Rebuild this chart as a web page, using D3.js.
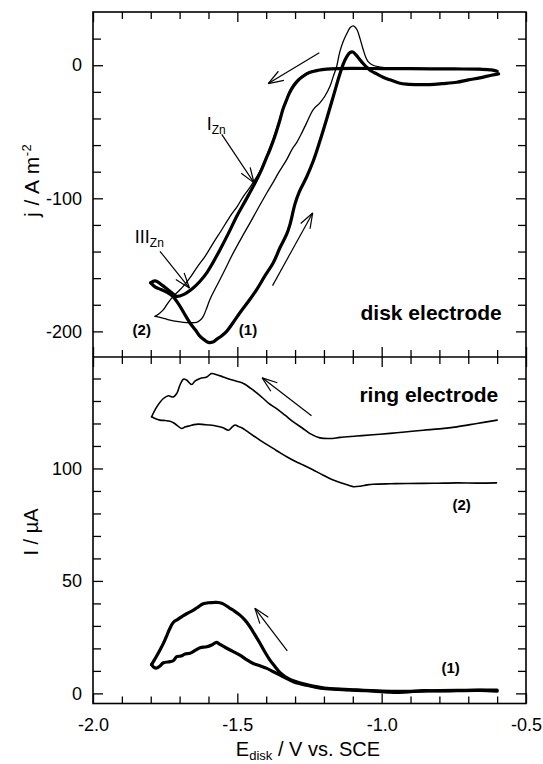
<!DOCTYPE html>
<html>
<head>
<meta charset="utf-8">
<script src="https://cdn.jsdelivr.net/npm/d3@7"></script>
<style>
  body { margin: 0; background: #fff; }
  svg { display: block; }
  text { font-family: "Liberation Sans", Arial, Helvetica, sans-serif; fill: #000; }
</style>
</head>
<body>
<div id="chart"></div>
<script>
// ---- data: [E (V vs. SCE), value] ----
// disk current density j / A m^-2, curve (1) thick, curve (2) thin
const diskFwd1 = [[-0.600,-4.5],[-0.620,-3.5],[-0.660,-3.0],[-0.750,-2.8],[-0.900,-2.6],[-1.000,-2.5],[-1.100,-2.4],[-1.150,-2.5],[-1.190,-2.9],[-1.220,-3.8],[-1.250,-5.5],[-1.272,-8.3],[-1.290,-11.5],[-1.306,-15.8],[-1.320,-21],[-1.329,-25.8],[-1.342,-33],[-1.352,-40.8],[-1.370,-53.4],[-1.387,-63.4],[-1.400,-70],[-1.416,-78.4],[-1.440,-89],[-1.470,-101],[-1.502,-113.5],[-1.530,-126],[-1.560,-138.6],[-1.585,-148.5],[-1.606,-156],[-1.630,-162.5],[-1.653,-167.4],[-1.687,-172.4],[-1.710,-173.7],[-1.727,-171],[-1.756,-166],[-1.785,-162],[-1.800,-163.5]];
const diskRev1 = [[-1.800,-163.5],[-1.785,-166.5],[-1.765,-168.5],[-1.745,-170.5],[-1.722,-174],[-1.699,-181],[-1.680,-188],[-1.664,-193.7],[-1.645,-199],[-1.629,-203.8],[-1.612,-206.8],[-1.600,-208.3],[-1.585,-208],[-1.572,-206],[-1.555,-203.5],[-1.537,-200],[-1.515,-193.5],[-1.491,-186],[-1.460,-177],[-1.433,-168.6],[-1.405,-158.5],[-1.376,-148.6],[-1.352,-137],[-1.329,-127],[-1.318,-120],[-1.300,-104],[-1.285,-95],[-1.260,-84],[-1.237,-72],[-1.214,-57],[-1.190,-40],[-1.167,-23],[-1.144,-6],[-1.127,4],[-1.110,9.5],[-1.100,10],[-1.090,8],[-1.080,5.5],[-1.065,1.5],[-1.052,-1.5],[-1.035,-4.5],[-1.017,-6.5],[-0.995,-9],[-0.971,-11],[-0.940,-13.3],[-0.914,-14.2],[-0.870,-14.6],[-0.833,-14.5],[-0.790,-13.8],[-0.740,-12.8],[-0.700,-11],[-0.660,-9.5],[-0.620,-7.5],[-0.595,-6.5]];
const diskFwd2 = [[-0.600,-4],[-0.640,-3.2],[-0.750,-2.7],[-0.900,-2.5],[-1.000,-2.3],[-1.100,-2.2],[-1.160,-2.4],[-1.190,-2.8],[-1.220,-3.5],[-1.250,-5],[-1.272,-7.5],[-1.290,-10.5],[-1.306,-14.5],[-1.322,-21],[-1.334,-28],[-1.346,-35.5],[-1.360,-45],[-1.377,-56],[-1.393,-65],[-1.410,-74],[-1.425,-81],[-1.439,-86],[-1.460,-93],[-1.479,-98.5],[-1.500,-106],[-1.525,-113.5],[-1.555,-124],[-1.583,-133.5],[-1.610,-143],[-1.641,-152.3],[-1.665,-160],[-1.687,-166],[-1.705,-170],[-1.722,-173.7],[-1.740,-178.5],[-1.756,-183.7],[-1.770,-186.5],[-1.785,-188.7]];
const diskRev2 = [[-1.785,-188.7],[-1.768,-189.5],[-1.750,-190.5],[-1.733,-191.5],[-1.710,-192.5],[-1.687,-193.2],[-1.665,-193.5],[-1.641,-193.2],[-1.628,-191.5],[-1.618,-188.7],[-1.607,-183],[-1.595,-176],[-1.578,-168.5],[-1.560,-161],[-1.537,-151],[-1.514,-141],[-1.485,-129.5],[-1.456,-118.5],[-1.428,-107.5],[-1.398,-96],[-1.376,-88],[-1.355,-80],[-1.329,-70.9],[-1.310,-63],[-1.295,-58.3],[-1.277,-51],[-1.260,-43.3],[-1.237,-33.3],[-1.214,-28.3],[-1.197,-23.3],[-1.179,-15.8],[-1.167,-8],[-1.156,-1],[-1.145,10],[-1.133,18],[-1.118,25],[-1.108,28.5],[-1.098,29.5],[-1.085,26.5],[-1.075,20],[-1.064,11.8],[-1.055,6],[-1.046,2.5],[-1.030,0],[-1.010,-1.2],[-0.983,-2],[-0.900,-2.5],[-0.800,-2.6],[-0.700,-3],[-0.640,-3.5],[-0.600,-4]];
// ring current I / uA, curve (1) thick, curve (2) thin
const ringFwd1 = [[-0.600,1.5],[-0.700,1.4],[-0.800,1.2],[-0.900,0.9],[-1.000,1.0],[-1.100,1.6],[-1.200,2.4],[-1.260,3.9],[-1.306,5.6],[-1.335,7.5],[-1.352,9.2],[-1.370,12],[-1.387,14.8],[-1.405,18.5],[-1.421,22.2],[-1.440,26.2],[-1.456,29.6],[-1.475,32.8],[-1.491,34.8],[-1.510,36.6],[-1.525,37.8],[-1.549,39.8],[-1.566,40.4],[-1.583,40.4],[-1.600,40.3],[-1.618,39.8],[-1.635,38.5],[-1.652,37],[-1.670,35.8],[-1.687,34.6],[-1.705,33],[-1.722,31.5],[-1.735,28.5],[-1.745,25.5],[-1.757,22],[-1.768,19.3],[-1.780,16.5],[-1.791,14.1],[-1.797,12.8]];
const ringRev1 = [[-1.797,12.8],[-1.788,11.5],[-1.779,11.3],[-1.768,12.2],[-1.756,13.6],[-1.733,14.1],[-1.722,14.5],[-1.710,16.3],[-1.695,16.6],[-1.681,17.5],[-1.664,17.8],[-1.645,19.2],[-1.629,20.3],[-1.606,20.7],[-1.589,21.5],[-1.572,22.7],[-1.563,22],[-1.554,21.3],[-1.540,20.3],[-1.525,19.3],[-1.491,17],[-1.468,15],[-1.445,13.3],[-1.420,12.2],[-1.398,11.1],[-1.375,9.6],[-1.352,8.1],[-1.329,6.6],[-1.306,5.2],[-1.283,4.3],[-1.260,3.6],[-1.230,2.8],[-1.202,2.2],[-1.150,1.8],[-1.110,1.5],[-1.050,1.2],[-0.971,0.5],[-0.920,0.6],[-0.856,1.2],[-0.800,1.1],[-0.740,1.2],[-0.660,1.3],[-0.600,1.0]];
const ringFwd2 = [[-0.600,121.5],[-0.670,120],[-0.740,118.5],[-0.800,117.6],[-0.856,117],[-0.920,116.2],[-0.971,115.6],[-1.030,115],[-1.087,114.4],[-1.144,113.8],[-1.179,113.3],[-1.214,113.6],[-1.248,115.5],[-1.275,118],[-1.306,120.7],[-1.335,123.7],[-1.364,126.6],[-1.390,128.8],[-1.410,131.1],[-1.445,134.8],[-1.479,137.8],[-1.503,138.8],[-1.526,139.7],[-1.549,140.7],[-1.572,141.7],[-1.589,142.2],[-1.606,140.7],[-1.629,140],[-1.647,138.8],[-1.658,137.3],[-1.676,139.3],[-1.687,139.7],[-1.699,137],[-1.710,133.3],[-1.722,131.8],[-1.739,132.3],[-1.756,131.1],[-1.779,127.4],[-1.797,123]];
const ringRev2 = [[-1.797,123],[-1.785,122.2],[-1.768,121.5],[-1.750,121.3],[-1.733,121],[-1.720,120.2],[-1.710,119.3],[-1.693,117.8],[-1.680,118.5],[-1.664,119],[-1.650,119.5],[-1.635,119.7],[-1.615,119.5],[-1.595,119.3],[-1.570,118.8],[-1.549,118.1],[-1.531,117],[-1.520,118.2],[-1.508,119.3],[-1.495,118.6],[-1.485,118.1],[-1.456,115.6],[-1.422,112.6],[-1.400,110.8],[-1.376,108.9],[-1.350,106.8],[-1.329,105.2],[-1.300,103.2],[-1.272,101.5],[-1.240,99.5],[-1.202,97],[-1.170,95],[-1.133,93.3],[-1.110,92.3],[-1.098,91.9],[-1.075,92.1],[-1.050,92.7],[-1.029,93],[-0.970,93.2],[-0.913,93.3],[-0.820,93.4],[-0.740,93.6],[-0.670,93.5],[-0.602,93.6]];

// tick labels
const xLabels = [-2.0, -1.5, -1.0, -0.5];
const diskLabels = [0, -100, -200];
const ringLabels = [0, 50, 100];

// annotation arrows (in data units: [from, to])
const diskArrows = [[[-1.216, 9.3], [-1.393, -13.8]], [[-1.554, -52], [-1.442, -88.4]], [[-1.768, -139.8], [-1.666, -167.4]], [[-1.378, -165.6], [-1.239, -111]]];
const ringArrows = [[[-1.243, 123.4], [-1.414, 140.3]], [[-1.327, 18.9], [-1.439, 37.8]]];

const W = 543, H = 764;
const L = 93, R = 526, T = 12, MID = 357, B = 703.5;

const x = d3.scaleLinear().domain([-2.0, -0.5]).range([L, R]);
const yDisk = d3.scaleLinear().domain([-220, 40]).range([358, T]);
const yRing = d3.scaleLinear().domain([-4.5, 150]).range([B, 356]);

const svg = d3.select('#chart').append('svg')
  .attr('width', W)
  .attr('height', H);

const isMajorX = d => Math.abs(Math.round(d * 10) % 5) === 0;
const xTicks = d3.range(-20, -4).map(d => d / 10);
const xFmt = d => xLabels.some(v => Math.abs(v - d) < 1e-9) ? d.toFixed(1) : '';

// remove domain, set stroke, lengthen the major ticks
function styleAxis(g, isMajor, len) {
  g.select('.domain').remove();
  g.selectAll('.tick line').attr('stroke', '#000').attr('stroke-width', 1.3);
  g.selectAll('.tick').filter(isMajor).select('line').each(function () {
    const l = d3.select(this);
    if (l.attr('x2') && +l.attr('x2') !== 0) l.attr('x2', Math.sign(+l.attr('x2')) * len);
    if (l.attr('y2') && +l.attr('y2') !== 0) l.attr('y2', Math.sign(+l.attr('y2')) * len);
  });
  g.selectAll('text').style('font-size', '18px').attr('fill', '#000');
}

// x axes: top, divider (both ways), bottom
svg.append('g').attr('transform', `translate(0,${T})`)
  .call(d3.axisTop(x).tickValues(xTicks).tickSize(-7).tickFormat(''))
  .call(g => styleAxis(g, isMajorX, 10));
svg.append('g').attr('transform', `translate(0,${MID})`)
  .call(d3.axisBottom(x).tickValues(xTicks).tickSize(-7).tickFormat(''))
  .call(g => styleAxis(g, isMajorX, 10));
svg.append('g').attr('transform', `translate(0,${MID})`)
  .call(d3.axisTop(x).tickValues(xTicks).tickSize(-7).tickFormat(''))
  .call(g => styleAxis(g, isMajorX, 10));
svg.append('g').attr('transform', `translate(0,${B})`)
  .call(d3.axisBottom(x).tickValues(xTicks).tickSize(-7).tickPadding(15).tickFormat(xFmt))
  .call(g => styleAxis(g, isMajorX, 10));

// y axes
const diskTicks = d3.range(-200, 40, 20);
const ringTicks = d3.range(0, 150, 10);
const yFmt = labels => d => labels.includes(d) ? String(d) : '';
svg.append('g').attr('transform', `translate(${L},0)`)
  .call(d3.axisLeft(yDisk).tickValues(diskTicks).tickSize(-8).tickPadding(11).tickFormat(yFmt(diskLabels)))
  .call(g => styleAxis(g, d => d % 100 === 0, 10));
svg.append('g').attr('transform', `translate(${R},0)`)
  .call(d3.axisRight(yDisk).tickValues(diskTicks).tickSize(-8).tickFormat(''))
  .call(g => styleAxis(g, d => d % 100 === 0, 10));
svg.append('g').attr('transform', `translate(${L},0)`)
  .call(d3.axisLeft(yRing).tickValues(ringTicks).tickSize(-8).tickPadding(11).tickFormat(yFmt(ringLabels)))
  .call(g => styleAxis(g, d => d % 50 === 0, 10));
svg.append('g').attr('transform', `translate(${R},0)`)
  .call(d3.axisRight(yRing).tickValues(ringTicks).tickSize(-8).tickFormat(''))
  .call(g => styleAxis(g, d => d % 50 === 0, 10));

// frame and divider
svg.append('rect')
  .attr('x', L).attr('y', T)
  .attr('width', R - L).attr('height', B - T)
  .attr('fill', 'none').attr('stroke', '#000').attr('stroke-width', 1.6);
svg.append('line')
  .attr('x1', L).attr('x2', R).attr('y1', MID).attr('y2', MID)
  .attr('stroke', '#000').attr('stroke-width', 1.6);

// curves
const diskLine = d3.line().x(d => x(d[0])).y(d => yDisk(d[1])).curve(d3.curveCatmullRom.alpha(0.5));
const ringLine = d3.line().x(d => x(d[0])).y(d => yRing(d[1])).curve(d3.curveCatmullRom.alpha(0.5));

const curves = svg.append('g').attr('fill', 'none').attr('stroke', '#000')
  .attr('stroke-linejoin', 'round').attr('stroke-linecap', 'round');
[diskFwd2, diskRev2].forEach(s => curves.append('path').attr('d', diskLine(s)).attr('stroke-width', 1.3));
[diskFwd1, diskRev1].forEach(s => curves.append('path').attr('d', diskLine(s)).attr('stroke-width', 3.2));
[ringFwd2, ringRev2].forEach(s => curves.append('path').attr('d', ringLine(s)).attr('stroke-width', 1.6));
[ringFwd1, ringRev1].forEach(s => curves.append('path').attr('d', ringLine(s)).attr('stroke-width', 3.2));

// arrows with open heads
function drawArrow(g, p0, p1) {
  const ang = Math.atan2(p0[1] - p1[1], p0[0] - p1[0]);
  const len = 16, spread = 0.34;
  g.append('line').attr('x1', p0[0]).attr('y1', p0[1]).attr('x2', p1[0]).attr('y2', p1[1]);
  [-spread, spread].forEach(s => {
    g.append('line')
      .attr('x1', p1[0]).attr('y1', p1[1])
      .attr('x2', p1[0] + len * Math.cos(ang + s))
      .attr('y2', p1[1] + len * Math.sin(ang + s));
  });
}
const arrows = svg.append('g').attr('stroke', '#000').attr('stroke-width', 1.2);
diskArrows.forEach(a => drawArrow(arrows, [x(a[0][0]), yDisk(a[0][1])], [x(a[1][0]), yDisk(a[1][1])]));
ringArrows.forEach(a => drawArrow(arrows, [x(a[0][0]), yRing(a[0][1])], [x(a[1][0]), yRing(a[1][1])]));

// labels
function subLabel(px, py, main, sub) {
  const t = svg.append('text').attr('x', px).attr('y', py).style('font-size', '18px');
  t.append('tspan').text(main);
  t.append('tspan').attr('dy', 4).style('font-size', '12px').text(sub);
}
subLabel(x(-1.606), yDisk(-49), 'I', 'Zn');
subLabel(x(-1.855), yDisk(-133.3), 'III', 'Zn');

const bold = (px, py, s, size, anchor) => svg.append('text')
  .attr('x', px).attr('y', py).attr('text-anchor', anchor)
  .style('font-size', size + 'px').style('font-weight', 'bold').text(s);
bold(x(-1.463), yDisk(-203), '(1)', 15, 'middle');
bold(x(-1.831), yDisk(-203), '(2)', 15, 'middle');
bold(x(-0.584), yDisk(-191.7), 'disk electrode', 21, 'end');
bold(x(-0.596), yRing(129.6), 'ring electrode', 21, 'end');
bold(x(-0.723), yRing(81.5), '(2)', 15, 'middle');
bold(x(-0.761), yRing(9.2), '(1)', 15, 'middle');

// axis titles
const yt1 = svg.append('text')
  .attr('transform', 'translate(39,217) rotate(-90)')
  .style('font-size', '21px')
  .style('letter-spacing', '0.5px');
yt1.append('tspan').text('j / A m');
yt1.append('tspan').attr('dy', -8).style('font-size', '13px').text('-2');

svg.append('text')
  .attr('transform', 'translate(38,532) rotate(-90)')
  .attr('text-anchor', 'middle')
  .style('font-size', '20px')
  .text('I / \u00b5A');

const xt = svg.append('text')
  .attr('x', 308).attr('y', 756)
  .attr('text-anchor', 'middle')
  .style('font-size', '20px');
xt.append('tspan').text('E');
xt.append('tspan').attr('dy', 4).style('font-size', '13px').text('disk');
xt.append('tspan').attr('dy', -4).text(' / V vs. SCE');
</script>
</body>
</html>
